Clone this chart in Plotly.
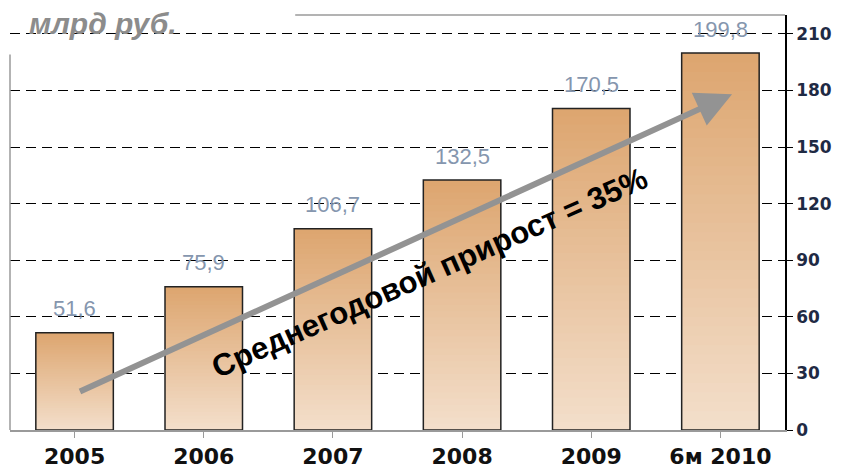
import plotly.graph_objects as go

categories = ["2005", "2006", "2007", "2008", "2009", "6м 2010"]
values = [51.6, 75.9, 106.7, 132.5, 170.5, 199.8]
value_labels = ["51,6", "75,9", "106,7", "132,5", "170,5", "199,8"]
y_ticks = [0, 30, 60, 90, 120, 150, 180, 210]

top_rgb = (221, 166, 112)
bot_rgb = (243, 222, 202)
N = 40

fig = go.Figure()
xs = list(range(len(categories)))
for k in range(N):
    frac = 1 - k / N
    t = k / (N - 1)
    c = tuple(round(top_rgb[i] + (bot_rgb[i] - top_rgb[i]) * t) for i in range(3))
    fig.add_trace(go.Bar(
        x=xs, y=[v * frac for v in values], width=0.6,
        marker=dict(color="rgb(%d,%d,%d)" % c, line=dict(width=0)),
        showlegend=False, hoverinfo="skip"))
fig.add_trace(go.Bar(
    x=xs, y=values, width=0.6,
    marker=dict(color="rgba(0,0,0,0)", line=dict(color="#222222", width=1.5)),
    showlegend=False))

for x, v, lab in zip(xs, values, value_labels):
    fig.add_annotation(x=x, y=v, text=lab, showarrow=False, yshift=24,
                       font=dict(family="Arial", size=22, color="#8596AE"))

# growth arrow
fig.add_annotation(x=5.09, y=178, ax=0.03, ay=20, xref="x", yref="y", axref="x", ayref="y",
                   text="", showarrow=True, arrowhead=2, arrowsize=1.2, arrowwidth=6,
                   arrowcolor="#939393")
fig.add_annotation(x=2.75, y=83.5, text="Среднегодовой прирост = 35%", showarrow=False,
                   textangle=-24, font=dict(family="Arial", size=31, color="black", weight="bold"))

fig.add_annotation(xref="paper", yref="paper", x=0.022, y=1.0, xanchor="left", yanchor="middle",
                   text="<i>млрд руб.</i>", showarrow=False, yshift=-8,
                   font=dict(family="Arial", size=30, color="#8C8C8C", weight="bold"))

# partial frame lines
fig.add_shape(type="line", xref="paper", yref="paper", x0=0.368, x1=1, y0=1, y1=1,
              line=dict(color="#9A9A9A", width=1.5))
fig.add_shape(type="line", xref="paper", yref="paper", x0=0, x1=0, y0=0, y1=0.905,
              line=dict(color="#9A9A9A", width=1.5))

fig.update_layout(
    width=835, height=466, barmode="overlay", bargap=0.4,
    margin=dict(l=2, r=58, t=7, b=44),
    plot_bgcolor="white", paper_bgcolor="white",
    xaxis=dict(tickmode="array", tickvals=xs, ticktext=categories, range=[-0.5, 5.5],
               showline=True, linecolor="#9A9A9A", linewidth=1.5,
               ticks="outside", tickson="boundaries", ticklen=6, tickcolor="#9A9A9A",
               showgrid=False,
               tickfont=dict(family="DejaVu Sans", size=22, color="#111111", weight="bold")),
    yaxis=dict(side="right", range=[0, 220], tickvals=y_ticks, showline=True,
               linecolor="black", linewidth=1.5, ticks="outside", ticklen=6, tickcolor="black",
               showgrid=True, gridcolor="black", griddash="10px,6px", gridwidth=1.3,
               zeroline=False,
               tickfont=dict(family="DejaVu Sans", size=17, color="#1F2A44", weight="bold")),
)
fig.write_html("out.html")
